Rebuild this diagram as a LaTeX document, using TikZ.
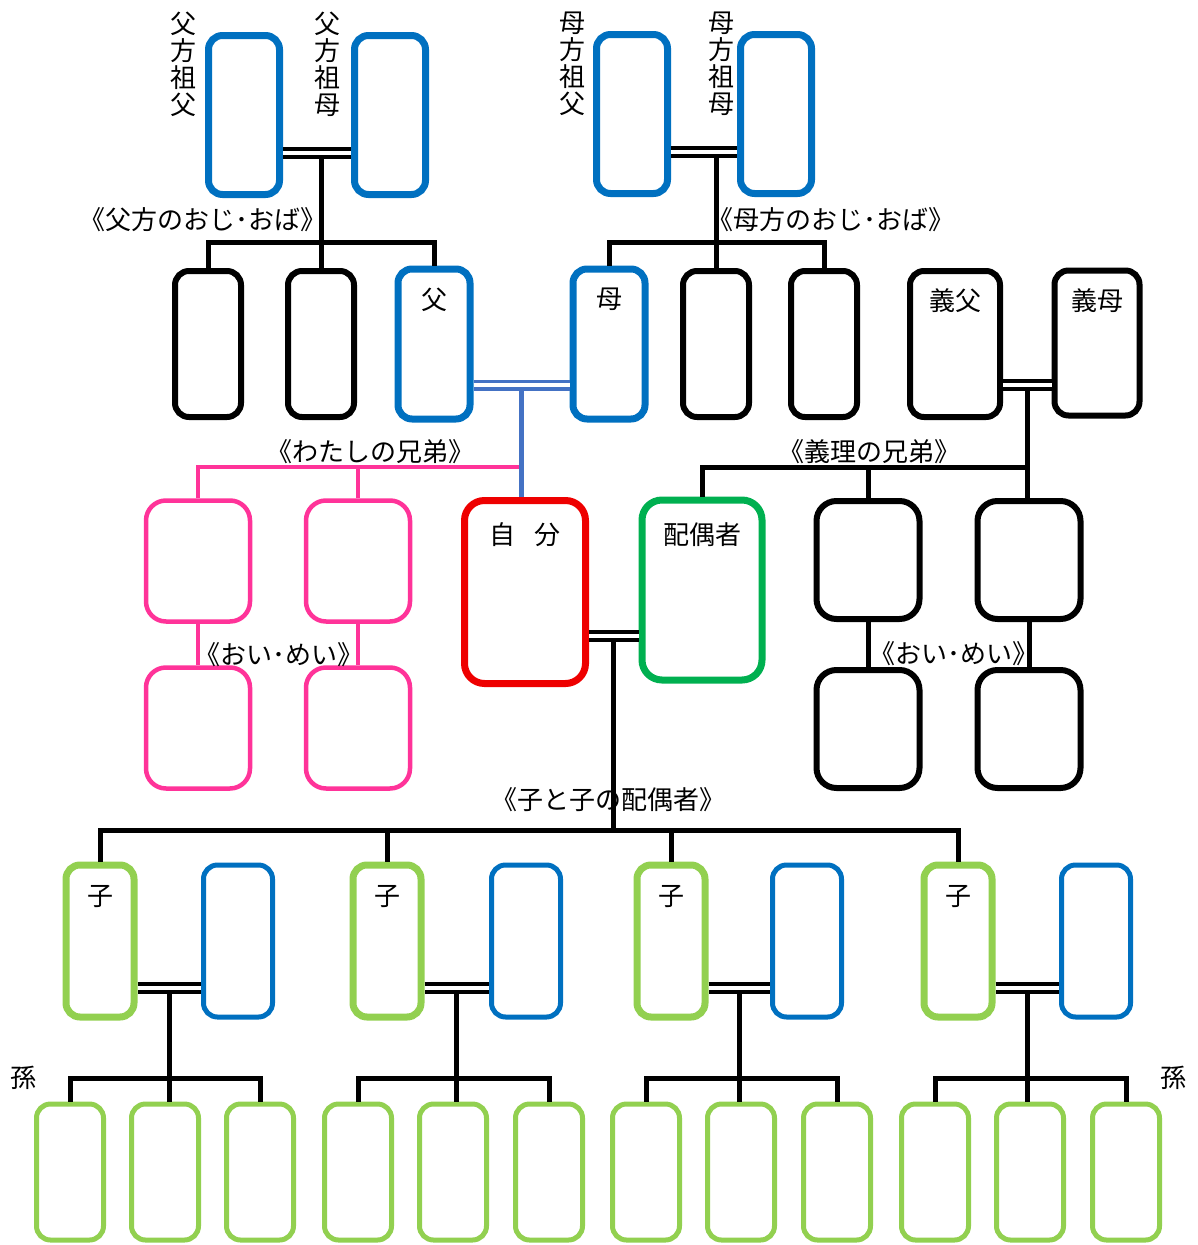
\documentclass[tikz,border=0pt]{standalone}
\usepackage{fontspec}
\setmainfont{Noto Sans CJK JP}
\usepackage{tikz}
\usetikzlibrary{calc,positioning}

\definecolor{oyablue}{HTML}{0070C0}
\definecolor{senblue}{HTML}{4472C4}
\definecolor{jibunred}{HTML}{EE0000}
\definecolor{haigugreen}{HTML}{00B050}
\definecolor{kogreen}{HTML}{92D050}
\definecolor{kyodaipink}{HTML}{FF3399}

\begin{document}
\begin{tikzpicture}[x=1pt,y=-1pt,node distance=113pt,on grid,
    box/.style={draw,rectangle,rounded corners=14pt,inner sep=0pt},
    sofu/.style={box,draw=oyablue,line width=7pt,minimum width=71pt,minimum height=159pt},
    oya/.style={box,draw=oyablue,line width=7pt,minimum width=72pt,minimum height=150pt},
    oji/.style={box,line width=6pt,minimum width=66pt,minimum height=146pt},
    giri/.style={box,line width=6pt,minimum height=146pt},
    jibun/.style={box,draw=jibunred,line width=7pt,rounded corners=20pt,minimum width=121pt,minimum height=183pt},
    haigu/.style={box,draw=haigugreen,line width=7pt,rounded corners=20pt,minimum width=120pt,minimum height=180pt},
    kyodai/.style={box,draw=kyodaipink,line width=4.5pt,rounded corners=20pt,minimum width=104pt,minimum height=121pt},
    gkyodai/.style={box,line width=6pt,rounded corners=20pt,minimum width=103pt,minimum height=118pt},
    ko/.style={box,draw=kogreen,line width=7pt,minimum width=68pt,minimum height=152pt},
    kohaigu/.style={box,draw=oyablue,line width=5pt,minimum width=69pt,minimum height=152pt},
    mago/.style={box,draw=kogreen,line width=5pt,minimum width=67pt,minimum height=136pt},
    moji/.style={inner sep=0pt,font=\fontsize{26}{27}\selectfont},
    tate/.style={moji,align=center},
    sen/.style={line width=5pt},
    pinksen/.style={line width=4.5pt,draw=kyodaipink},
    bluesen/.style={line width=4.5pt,draw=senblue},
    fufu/.style={double=white,double distance=4pt,line width=4pt},
  ]
\useasboundingbox (0,0) rectangle (1197,1245);

% 祖父母
\node[sofu] (pgf) at (244,115) {};
\node[sofu] (pgm) at (390,115) {};
\node[sofu] (mgf) at (632,114) {};
\node[sofu] (mgm) at (776,114) {};
\node[tate] (pgfT) at (183,64) {父\\方\\祖\\父};
\node[tate] (pgmT) at (327,64) {父\\方\\祖\\母};
\node[tate] (mgfT) at (572,64) {母\\方\\祖\\父};
\node[tate] (mgmT) at (721,64) {母\\方\\祖\\母};

% 親の代
\node[oji] (oj1) at (208,344) {};
\node[oji] (oj2) [right=of oj1] {};
\node[oya] (fa) [right=of oj2] {};
\node[oya] (mo) at (609,344) {};
\node[oji] (ob1) [right=107pt of mo] {};
\node[oji] (ob2) [right=108pt of ob1] {};
\node[giri,minimum width=90pt] (gfa) at (955,344) {};
\node[giri,minimum width=85pt,minimum height=145pt] (gmo) at (1097,343) {};
\node[moji] (faT) at ([yshift=-34pt]fa.north) {父};
\node[moji] (moT) at ([yshift=-34pt]mo.north) {母};
\node[moji] (gfaT) at ([yshift=-33pt]gfa.north) {義父};
\node[moji] (gmoT) at ([yshift=-33pt]gmo.north) {義母};
\node[moji] (ojiL) at (203,220) {《父方のおじ･おば》};
\node[moji] (obaL) at (831,220) {《母方のおじ･おば》};

\coordinate (pgc) at ($(pgf.east)!.5!(pgm.west)+(0,37.5)$);
\coordinate (mgc) at ($(mgf.east)!.5!(mgm.west)+(0,37.5)$);
\draw[sen] (oj2.north |- pgc) -- (oj2.north);
\draw[sen] (oj1.north) -- (oj1.north |- 0,242) -- (fa.north |- 0,242) -- (fa.north);
\draw[fufu] (pgf.east |- pgc) -- (pgm.west |- pgc);
\draw[sen] (ob1.north |- mgc) -- (ob1.north);
\draw[sen] (mo.north) -- (mo.north |- 0,242) -- (ob2.north |- 0,242) -- (ob2.north);
\draw[fufu] (mgf.east |- mgc) -- (mgm.west |- mgc);

% わたしの代
\node[jibun] (me) at (525,592) {};
\node[haigu] (sp) at (702,590) {};
\node[moji] (meT) at ([yshift=-38pt]me.north) {自\hspace{19pt}分};
\node[moji] (spT) at ([yshift=-38pt]sp.north) {配偶者};
\node[kyodai] (kd1) at (198,561) {};
\node[kyodai] (kd2) [right=160pt of kd1] {};
\node[kyodai] (oi1) [below=167pt of kd1] {};
\node[kyodai] (oi2) [below=167pt of kd2] {};
\node[gkyodai] (gk1) at (868,560) {};
\node[gkyodai] (gk2) [right=161pt of gk1] {};
\node[gkyodai] (goi1) [below=169pt of gk1] {};
\node[gkyodai] (goi2) [below=169pt of gk2] {};
\node[moji] (kdL) at (370,452) {《わたしの兄弟》};
\node[moji] (gkL) at (869,452) {《義理の兄弟》};
\node[moji] (oiL) at (279,655) {《おい･めい》};
\node[moji] (goiL) at (954,654) {《おい･めい》};

\coordinate (oc) at ($(fa.east)!.5!(mo.west)+(0,41)$);
\coordinate (gic) at ($(gfa.east)!.5!(gmo.west)+(0,41)$);
\draw[pinksen] (kd1.north) -- (kd1.north |- 0,467) -- (oc |- 0,467);
\draw[pinksen] (kd2.north) -- (kd2.north |- 0,467);
\draw[pinksen] (kd1) -- (oi1);
\draw[pinksen] (kd2) -- (oi2);
\draw[bluesen] (oc) -- (oc |- me.north);
\draw[fufu,draw=senblue,line width=3.5pt] (fa.east |- oc) -- (mo.west |- oc);
\draw[sen] (gic) -- (gic |- gk2.north);
\draw[sen] (sp.north) -- (sp.north |- 0,467) -- (gic |- 0,467);
\draw[sen] (gk1.north) -- (gk1.north |- 0,467);
\draw[sen] (gk1) -- (goi1);
\draw[sen] (gk2) -- (goi2);
\draw[fufu] (gfa.east |- gic) -- (gmo.west |- gic);

% 子の代
\node[ko] (ko1) at (100,941) {};
\node[kohaigu] (kh1) [right=138pt of ko1] {};
\node[ko] (ko2) [right=287pt of ko1] {};
\node[kohaigu] (kh2) [right=139pt of ko2] {};
\node[ko] (ko3) [right=284pt of ko2] {};
\node[kohaigu] (kh3) [right=136pt of ko3] {};
\node[ko] (ko4) [right=287pt of ko3] {};
\node[kohaigu] (kh4) [right=138pt of ko4] {};
\node[moji] (ko1T) at ([yshift=-35pt]ko1.north) {子};
\node[moji] (ko2T) at ([yshift=-35pt]ko2.north) {子};
\node[moji] (ko3T) at ([yshift=-35pt]ko3.north) {子};
\node[moji] (ko4T) at ([yshift=-35pt]ko4.north) {子};
\node[moji] (koL) at (608,800) {《子と子の配偶者》};

\coordinate (mc) at ($(me.east)!.5!(sp.west)+(0,45)$);
\draw[sen] (mc) -- (mc |- 0,830);
\draw[fufu] (me.east |- mc) -- (sp.west |- mc);
\draw[sen] (ko1.north) -- (ko1.north |- 0,830) -- (ko4.north |- 0,830) -- (ko4.north);
\draw[sen] (ko2.north) -- (ko2.north |- 0,830);
\draw[sen] (ko3.north) -- (ko3.north |- 0,830);

% 孫
\node[mago] (mg11) at (70,1172) {};
\node[mago] (mg12) [right=95pt of mg11] {};
\node[mago] (mg13) [right=95pt of mg12] {};
\node[mago] (mg21) at (358,1172) {};
\node[mago] (mg22) [right=95pt of mg21] {};
\node[mago] (mg23) [right=96pt of mg22] {};
\node[mago] (mg31) at (646,1172) {};
\node[mago] (mg32) [right=95pt of mg31] {};
\node[mago] (mg33) [right=96pt of mg32] {};
\node[mago] (mg41) at (935,1172) {};
\node[mago] (mg42) [right=95pt of mg41] {};
\node[mago] (mg43) [right=96pt of mg42] {};
\node[moji] (mgL) at (23,1078) {孫};
\node[moji] (mgR) at (1173,1078) {孫};

\coordinate (kc1) at ($(ko1.east)!.5!(kh1.west)+(0,47)$);
\coordinate (kc2) at ($(ko2.east)!.5!(kh2.west)+(0,47)$);
\coordinate (kc3) at ($(ko3.east)!.5!(kh3.west)+(0,47)$);
\coordinate (kc4) at ($(ko4.east)!.5!(kh4.west)+(0,47)$);
\draw[sen] (kc1) -- (kc1 |- mg12.north);
\draw[sen] (kc2) -- (kc2 |- mg22.north);
\draw[sen] (kc3) -- (kc3 |- mg32.north);
\draw[sen] (kc4) -- (kc4 |- mg42.north);
\draw[fufu] (ko1.east |- kc1) -- (kh1.west |- kc1);
\draw[fufu] (ko2.east |- kc2) -- (kh2.west |- kc2);
\draw[fufu] (ko3.east |- kc3) -- (kh3.west |- kc3);
\draw[fufu] (ko4.east |- kc4) -- (kh4.west |- kc4);
\draw[sen] (mg11.north) -- (mg11.north |- 0,1078) -- (mg13.north |- 0,1078) -- (mg13.north);
\draw[sen] (mg21.north) -- (mg21.north |- 0,1078) -- (mg23.north |- 0,1078) -- (mg23.north);
\draw[sen] (mg31.north) -- (mg31.north |- 0,1078) -- (mg33.north |- 0,1078) -- (mg33.north);
\draw[sen] (mg41.north) -- (mg41.north |- 0,1078) -- (mg43.north |- 0,1078) -- (mg43.north);
\end{tikzpicture}
\end{document}
